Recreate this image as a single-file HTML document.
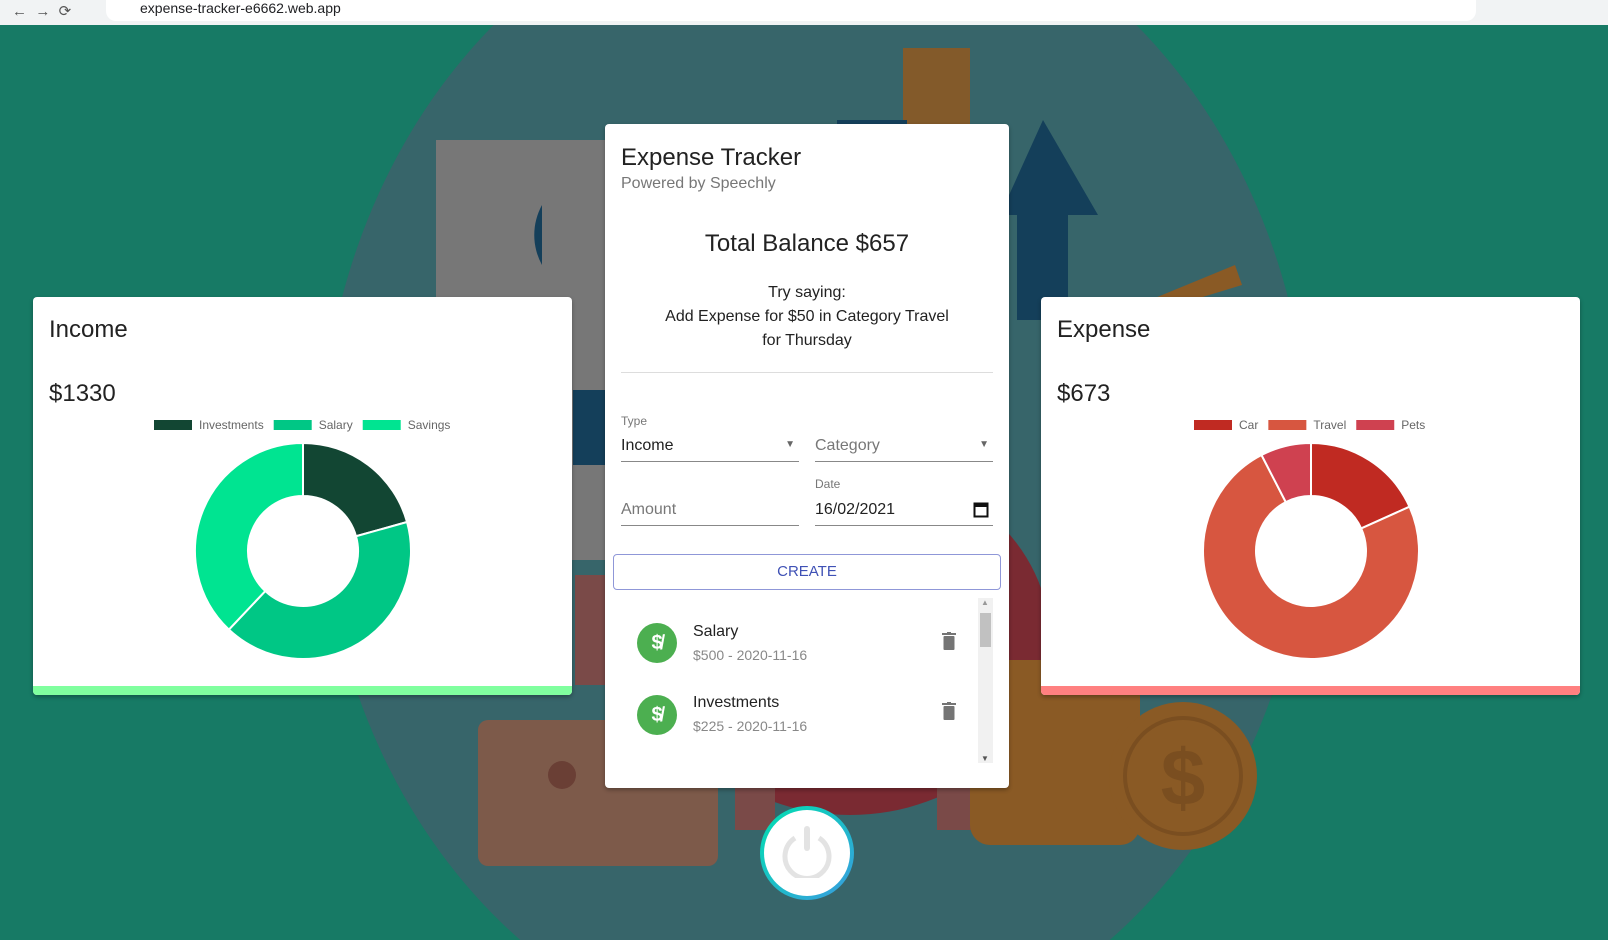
<!DOCTYPE html>
<html><head><meta charset="utf-8"><style>
*{margin:0;padding:0;box-sizing:border-box}
html{overflow:hidden}
body{width:1608px;height:940px;overflow:hidden;position:relative;font-family:"Liberation Sans",Arial,sans-serif;background:#177a65}
.abs{position:absolute}
.card{position:absolute;background:#fff;border-radius:4px;box-shadow:0 2px 4px rgba(0,0,0,.3);overflow:hidden}
.t{position:absolute;white-space:nowrap}
</style></head><body>
<svg class="abs" style="left:0;top:0" width="1608" height="940">
<ellipse cx="815" cy="470" rx="495" ry="585" fill="#37656a"/>
<rect x="436" y="140" width="170" height="420" fill="#777"/>
<path d="M542 265 A62 62 0 0 1 542 205 Z" fill="#143f5a"/>
<rect x="903" y="48" width="67" height="80" fill="#835a2a"/>
<rect x="837" y="120" width="70" height="10" fill="#143f5a"/>
<polygon points="1043,120 1098,215 1068,215 1068,320 1017,320 1017,215 1000,215" fill="#143f5a"/>
<rect x="573" y="390" width="40" height="75" fill="#143f5a"/>
<ellipse cx="850" cy="640" rx="200" ry="175" fill="#7a2a32"/>
<rect x="575" y="575" width="40" height="110" fill="#7a4a48"/>
<rect x="735" y="780" width="40" height="50" fill="#7a4a48"/>
<rect x="937" y="780" width="40" height="50" fill="#7a4a48"/>
<rect x="478" y="720" width="240" height="146" rx="10" fill="#7d5a4a"/>
<circle cx="562" cy="775" r="14" fill="#6a3f35"/>
<rect x="970" y="660" width="170" height="185" rx="20" fill="#8a5a25"/>
<circle cx="1183" cy="776" r="74" fill="#8a5a25"/>
<circle cx="1183" cy="776" r="58" fill="none" stroke="#7a4e20" stroke-width="4"/>
<text x="1183" y="805" font-size="80" font-weight="bold" fill="#7a4e20" text-anchor="middle" font-family="Liberation Sans">$</text>
<polygon points="1150,300 1235,265 1242,285 1160,310" fill="#8a5a25"/>
</svg>

<div class="abs" style="left:0;top:0;width:1608px;height:25px;background:#f1f3f4">
 <div class="t" style="left:12px;top:2px;font-size:15px;color:#555">←&nbsp;&nbsp;→&nbsp;&nbsp;⟳</div>
 <div class="abs" style="left:106px;top:0;width:1370px;height:21px;background:#fff;border-radius:0 0 10px 10px">
  <div class="t" style="left:34px;top:0;font-size:14px;color:#202124">expense-tracker-e6662.web.app</div>
 </div>
</div>

<div class="card" style="left:33px;top:297px;width:539px;height:398px">
 <div class="t" style="left:16px;top:19px;font-size:24px;color:#222">Income</div>
 <div class="t" style="left:16px;top:83px;font-size:24px;color:#222">$1330</div>
 <div class="abs" style="left:0;bottom:0;width:100%;height:9px;background:#80ff9f"></div>
</div>
<div class="card" style="left:1041px;top:297px;width:539px;height:398px">
 <div class="t" style="left:16px;top:19px;font-size:24px;color:#222">Expense</div>
 <div class="t" style="left:16px;top:83px;font-size:24px;color:#222">$673</div>
 <div class="abs" style="left:0;bottom:0;width:100%;height:9px;background:#ff8080"></div>
</div>
<svg id="charts" class="abs" style="left:0;top:0" width="1608" height="940"></svg>

<div class="card" style="left:605px;top:124px;width:404px;height:664px">
 <div class="t" style="left:16px;top:20px;font-size:24px;color:#222">Expense Tracker</div>
 <div class="t" style="left:16px;top:51px;font-size:16px;color:#777">Powered by Speechly</div>
 <div class="t" style="left:0;width:404px;text-align:center;top:106px;font-size:24px;color:#222">Total Balance $657</div>
 <div class="abs" style="left:0;width:404px;text-align:center;top:157px;font-size:16px;line-height:24px;color:#222">Try saying:<br>Add Expense for $50 in Category Travel<br>for Thursday</div>
 <div class="abs" style="left:16px;top:248px;width:372px;height:1px;background:#ddd"></div>
 <div class="t" style="left:16px;top:290px;font-size:12px;color:#777">Type</div>
 <div class="abs" style="left:16px;top:305px;width:178px;height:33px;border-bottom:1px solid #888"><div class="t" style="left:0;top:8px;font-size:16px;color:#222">Income</div><div class="t" style="right:4px;top:10px;font-size:10px;color:#666">▼</div></div>
 <div class="abs" style="left:210px;top:305px;width:178px;height:33px;border-bottom:1px solid #888"><div class="t" style="left:0;top:8px;font-size:16px;color:#777">Category</div><div class="t" style="right:4px;top:10px;font-size:10px;color:#666">▼</div></div>
 <div class="t" style="left:210px;top:353px;font-size:12px;color:#777">Date</div>
 <div class="abs" style="left:16px;top:368px;width:178px;height:34px;border-bottom:1px solid #888"><div class="t" style="left:0;top:9px;font-size:16px;color:#777">Amount</div></div>
 <div class="abs" style="left:210px;top:368px;width:178px;height:34px;border-bottom:1px solid #888"><div class="t" style="left:0;top:9px;font-size:16px;color:#222">16/02/2021</div>
  <svg class="abs" style="right:4px;top:8px" width="16" height="18"><rect x="1.5" y="3.5" width="13" height="13" fill="none" stroke="#111" stroke-width="2"/><rect x="1" y="3" width="14" height="4" fill="#111"/></svg></div>
 <div class="abs" style="left:8px;top:430px;width:388px;height:36px;border:1px solid #8f97d8;border-radius:4px;text-align:center;line-height:34px;font-size:15px;color:#3f51b5">CREATE</div>
 <div class="abs" style="left:373px;top:474px;width:15px;height:165px;background:#f1f1f1"><div class="abs" style="left:2px;top:15px;width:11px;height:34px;background:#c1c1c1"></div><div class="t" style="left:3px;top:0;font-size:8px;color:#999">▲</div><div class="t" style="left:3px;bottom:0;font-size:8px;color:#555">▼</div></div>
 <div class="abs" style="left:0;top:482px;width:370px;height:72px">
  <div class="abs" style="left:32px;top:17px;width:40px;height:40px;border-radius:50%;background:#4caf50;color:#fff;text-align:center;line-height:40px;font-size:20px;font-weight:bold">$̸</div>
  <div class="t" style="left:88px;top:17px;font-size:16px;color:#222">Salary</div>
  <div class="t" style="left:88px;top:41px;font-size:14px;color:#888">$500 - 2020-11-16</div>
  <svg class="abs" style="left:337px;top:26px" width="14" height="18"><rect x="0" y="1" width="14" height="2" fill="#757575"/><rect x="5" y="0" width="4" height="2" fill="#757575"/><rect x="1.5" y="4" width="11" height="14" rx="1" fill="#757575"/></svg>
 </div>
 <div class="abs" style="left:0;top:554px;width:370px;height:72px">
  <div class="abs" style="left:32px;top:17px;width:40px;height:40px;border-radius:50%;background:#4caf50;color:#fff;text-align:center;line-height:40px;font-size:20px;font-weight:bold">$̸</div>
  <div class="t" style="left:88px;top:16px;font-size:16px;color:#222">Investments</div>
  <div class="t" style="left:88px;top:40px;font-size:14px;color:#888">$225 - 2020-11-16</div>
  <svg class="abs" style="left:337px;top:24px" width="14" height="18"><rect x="0" y="1" width="14" height="2" fill="#757575"/><rect x="5" y="0" width="4" height="2" fill="#757575"/><rect x="1.5" y="4" width="11" height="14" rx="1" fill="#757575"/></svg>
 </div>
</div>

<div class="abs" style="left:760px;top:806px;width:94px;height:94px;border-radius:50%;background:linear-gradient(135deg,#00e0b0,#3a9be0);padding:4px">
 <div style="width:86px;height:86px;border-radius:50%;background:#fff;position:relative">
  <svg class="abs" style="left:18px;top:16px" width="50" height="52"><path d="M13 12 A22 22 0 1 0 37 12" fill="none" stroke="#e3e3e3" stroke-width="5"/><line x1="25" y1="3" x2="25" y2="22" stroke="#e3e3e3" stroke-width="6" stroke-linecap="round"/></svg>
 </div>
</div>

<script>
const incomeCategories=["Investments","Salary","Savings"];
const incomeValues=[275,550,505];
const incomeColors=["#124633","#00c785","#00e491"];
const expenseCategories=["Car","Travel","Pets"];
const expenseValues=[123,499,51];
const expenseColors=["#c02a22","#d75640","#cf4150"];
const NS="http://www.w3.org/2000/svg";
const svg=document.getElementById('charts');
function angle(v,total){return v/total*Math.PI*2;}
function pt(cx,cy,r,a){return [cx+r*Math.sin(a),cy-r*Math.cos(a)];}
function donut(cats,vals,cols,cx,cy,R,r,legendX,legendY,name){
 const total=vals.reduce((a,b)=>a+b,0);let acc=0;
 vals.forEach((v,i)=>{
  const a0=angle(acc,total),a1=angle(acc+v,total);acc+=v;
  const large=(a1-a0)>Math.PI?1:0;
  const p0=pt(cx,cy,R,a0),p1=pt(cx,cy,R,a1),q1=pt(cx,cy,r,a1),q0=pt(cx,cy,r,a0);
  const p=document.createElementNS(NS,'path');
  p.setAttribute('d',`M${p0[0]},${p0[1]}A${R},${R} 0 ${large} 1 ${p1[0]},${p1[1]}L${q1[0]},${q1[1]}A${r},${r} 0 ${large} 0 ${q0[0]},${q0[1]}Z`);
  p.setAttribute('fill',cols[i]);p.setAttribute('stroke','#fff');p.setAttribute('stroke-width','2');
  
  
  svg.appendChild(p);
 });
 let x=legendX;
 cats.forEach((c,i)=>{
  const b=document.createElementNS(NS,'rect');
  b.setAttribute('x',x);b.setAttribute('y',legendY-5);b.setAttribute('width',38);b.setAttribute('height',10);b.setAttribute('fill',cols[i]);
  
  
  svg.appendChild(b);
  const t=document.createElementNS(NS,'text');
  t.setAttribute('x',x+45);t.setAttribute('y',legendY+4);t.setAttribute('font-size','12');t.setAttribute('fill','#666');t.setAttribute('font-family','Liberation Sans, sans-serif');
  t.textContent=c;
  
  
  svg.appendChild(t);
  x+=45+t.getComputedTextLength()+10;
 });
}
donut(incomeCategories,incomeValues,incomeColors,303,551,108,55,154,425,'income');
donut(expenseCategories,expenseValues,expenseColors,1311,551,108,55,1194,425,'expense');
</script>
</body></html>
